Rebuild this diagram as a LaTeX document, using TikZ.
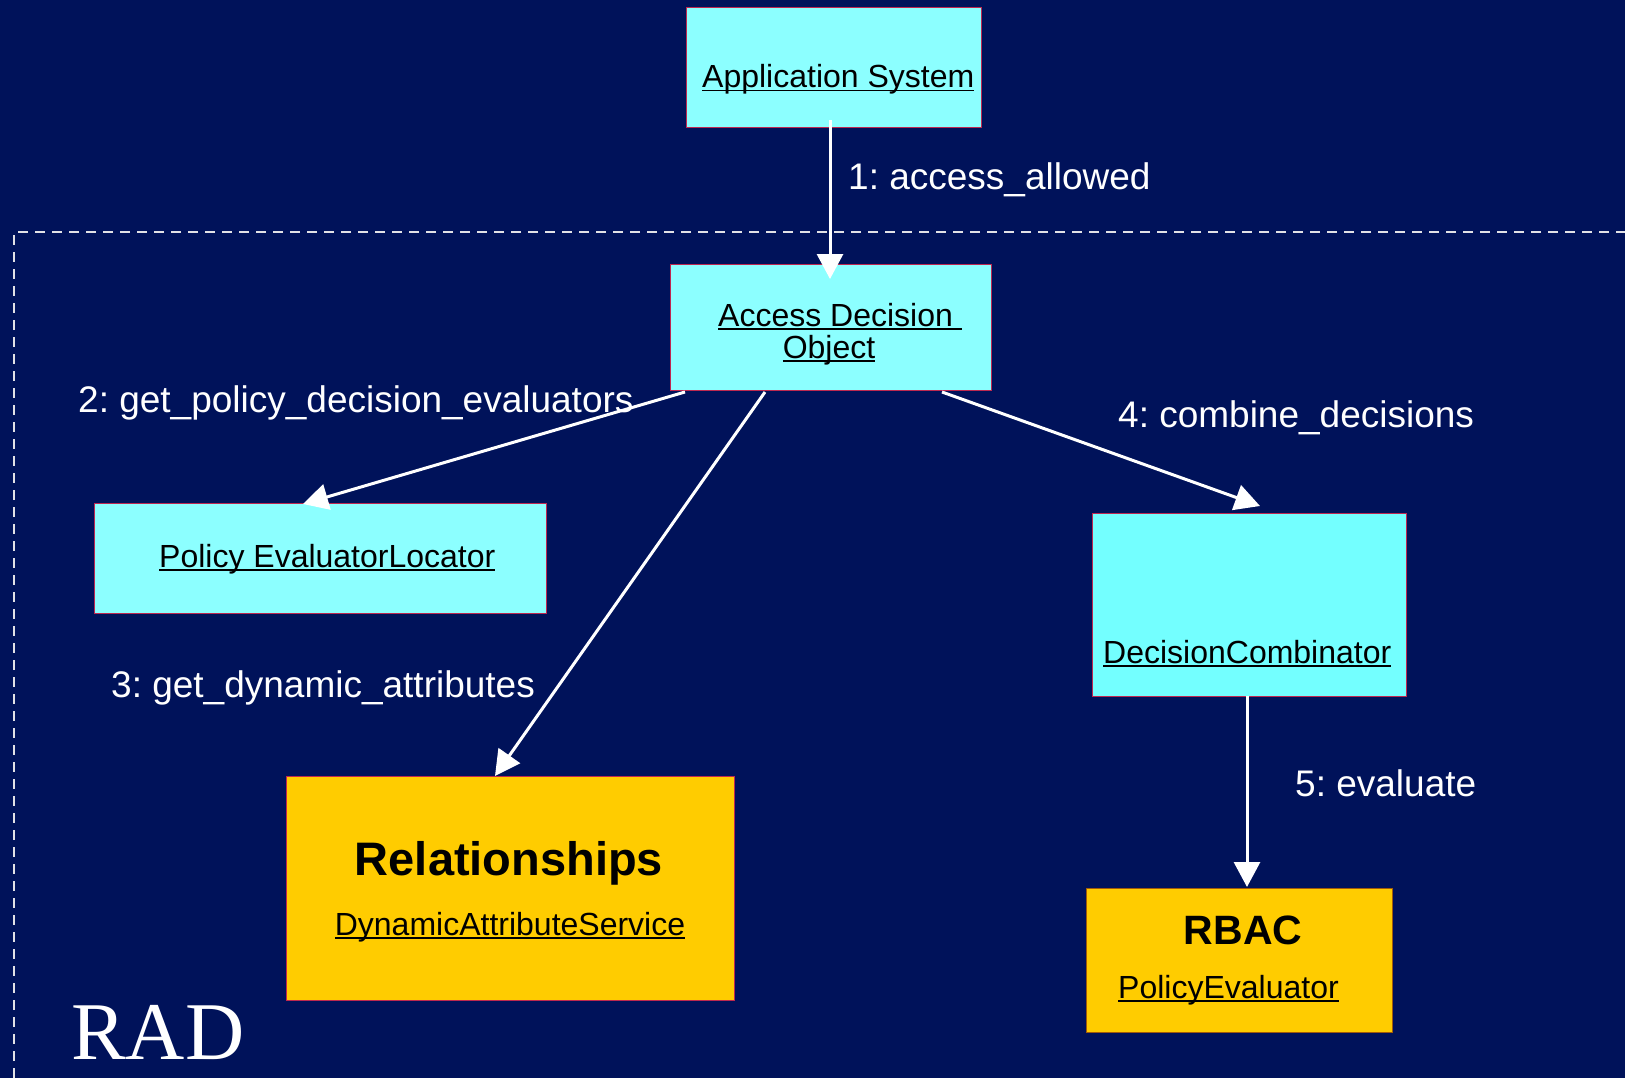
\documentclass[tikz,border=0pt]{standalone}
\usepackage{fontspec}
\setmainfont{Liberation Sans}
\newfontfamily\radfont{Liberation Serif}
\usetikzlibrary{arrows.meta}
\frenchspacing

\definecolor{navy}{RGB}{0,18,90}
\definecolor{cyanbox}{RGB}{140,255,255}
\definecolor{cyandeep}{RGB}{115,255,255}
\definecolor{goldbox}{RGB}{255,204,0}
\definecolor{redline}{RGB}{190,40,80}
\definecolor{brownline}{RGB}{160,90,10}
\definecolor{dashgray}{RGB}{225,225,230}

% underlined class name, rule just below the baseline
\newcommand{\ulname}[1]{\setbox0=\hbox{#1}\rlap{\rule[-3.5pt]{\wd0}{1.8pt}}\box0}

\tikzset{
  objbox/.style={draw=redline, line width=1pt, fill=cyanbox, minimum width=#1,
                 inner sep=0pt, outer sep=0pt, anchor=north west},
  objtext/.style={inner sep=0pt, text=black, font=\fontsize{32}{38}\selectfont},
  boldtext/.style={inner sep=0pt, text=black, font=\fontsize{47}{56}\selectfont\bfseries},
  msglabel/.style={inner sep=0pt, text=white, font=\fontsize{37}{44}\selectfont, anchor=base west},
  msg/.style={draw=white, line width=3pt, -{Triangle[width=26pt,length=25pt]}, fill=white},
}

\begin{document}
\begin{tikzpicture}[x=1pt, y=-1pt]
  % page
  \useasboundingbox (0,0) rectangle (1625,1078);
  \clip (0,0) rectangle (1625,1078);
  \fill[navy] (0,0) rectangle (1625,1078);

  % subsystem frame
  \draw[dashgray, line width=2pt, dash pattern=on 10pt off 7pt]
    (1660,232) -- (14,232) -- (14,1100);
  \node[anchor=base west, inner sep=0pt, text=white, font=\fontsize{82}{90}\selectfont\radfont]
    (rad) at (71,1059) {RAD};

  % objects
  \node[objbox=295pt, minimum height=120pt] (app) at (686,8) {};
  \node[objtext, anchor=base west] (apptxt) at (702,88) {\ulname{Application System}};

  \node[objbox=321pt, minimum height=126pt] (ado) at (670,264) {};
  \node[objtext, anchor=base west] (adotxta) at (718,326) {\ulname{Access Decision }};
  \node[objtext, anchor=base] (adotxtb) at (829,358) {\ulname{Object}};

  \node[objbox=452pt, minimum height=110pt] (pel) at (94,503) {};
  \node[objtext, anchor=base west] (peltxt) at (159,567) {\ulname{Policy EvaluatorLocator}};

  \node[objbox=314pt, minimum height=183pt, fill=cyandeep] (dc) at (1092,513) {};
  \node[objtext, anchor=base west] (dctxt) at (1103,663) {\ulname{DecisionCombinator}};

  \node[objbox=448pt, minimum height=224pt, fill=goldbox] (rel) at (286,776) {};
  \node[boldtext, anchor=base] (reltxt) at (509,875) {Relationships};
  \node[objtext, anchor=base] (relsub) at (510,935) {\ulname{DynamicAttributeService}};

  \node[objbox=306pt, minimum height=144pt, fill=goldbox, draw=brownline] (rbac) at (1086,888) {};
  \node[boldtext, anchor=base, font=\fontsize{41}{50}\selectfont\bfseries] (rbactxt) at (1243,944) {RBAC};
  \node[objtext, anchor=base west] (rbacsub) at (1118,998) {\ulname{PolicyEvaluator}};

  % messages
  \draw[msg] ([xshift=-3.5pt, yshift=8pt]app.south) -- ([xshift=-0.5pt, yshift=-15pt]ado.north);
  \draw[msg] ([xshift=15pt, yshift=-2pt]ado.south west) -- ([xshift=-17pt, yshift=-1pt]pel.north);
  \draw[msg] ([xshift=95pt, yshift=-2pt]ado.south west) -- ([xshift=-15pt]rel.north);
  \draw[msg] ([xshift=-49pt, yshift=-2pt]ado.south east) -- ([xshift=11pt, yshift=7pt]dc.north);
  \draw[msg] ([xshift=-2pt]dc.south) -- ([xshift=8pt, yshift=1pt]rbac.north);

  % message labels
  \node[msglabel] (m1) at (848,190) {1: access\_allowed};
  \node[msglabel] (m2) at (78,412) {2: get\_policy\_decision\_evaluators};
  \node[msglabel] (m3) at (111,697) {3: get\_dynamic\_attributes};
  \node[msglabel] (m4) at (1118,427) {4: combine\_decisions};
  \node[msglabel] (m5) at (1295,796) {5: evaluate};
\end{tikzpicture}
\end{document}
